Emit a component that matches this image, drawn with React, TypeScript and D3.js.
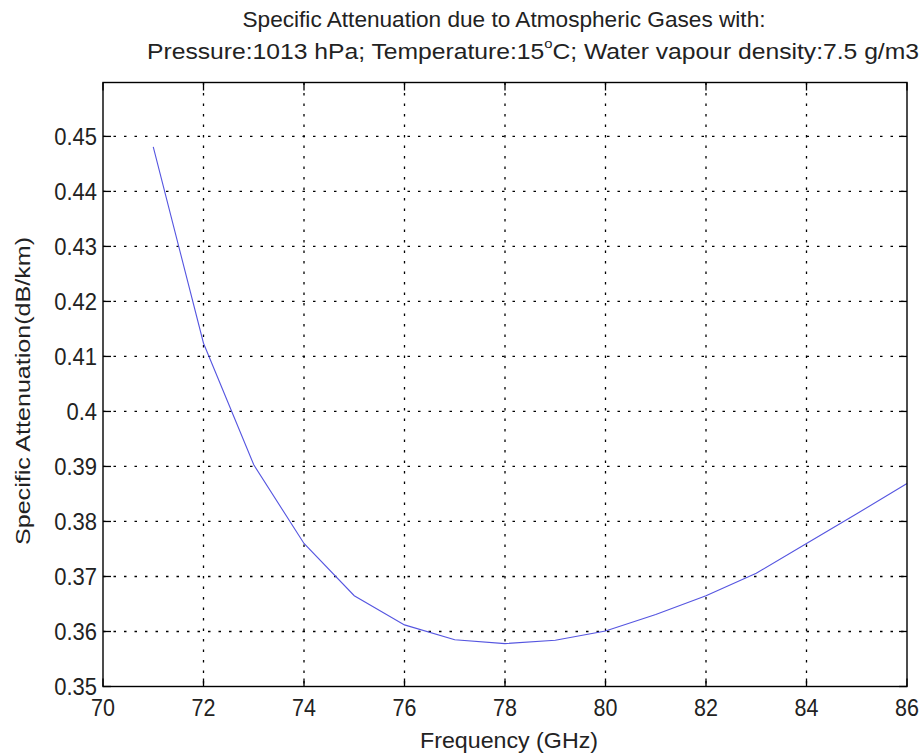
import React from "react";
import * as d3 from "d3";

const frequencies = [71, 72, 73, 74, 75, 76, 77, 78, 79, 80, 81, 82, 83, 84, 85, 86];
const attenuation = [0.4481, 0.4124, 0.3903, 0.376, 0.3665, 0.3612, 0.3585, 0.3578, 0.3584, 0.3601, 0.3631, 0.3665, 0.3706, 0.376, 0.3814, 0.3869];
const xTicks = [70, 72, 74, 76, 78, 80, 82, 84, 86];
const yTicks = [0.35, 0.36, 0.37, 0.38, 0.39, 0.4, 0.41, 0.42, 0.43, 0.44, 0.45];
const xDomain = [70, 86];
const yDomain = [0.35, 0.4598];

const W = 924;
const H = 754;
const L = 103, R = 907, T = 82.5, B = 686.5;
const FONT = "'Liberation Sans', Arial, Helvetica, sans-serif";

export default function App() {
  const x = d3.scaleLinear().domain(xDomain).range([L, R]);
  const y = d3.scaleLinear().domain(yDomain).range([B, T]);
  const line = d3
    .line<number>()
    .x((_, i) => x(frequencies[i]))
    .y((d) => y(d));
  const tl = 8;
  const fmtY = (v: number) => String(+v.toFixed(2));
  return (
    <svg
      width={W}
      height={H}
      style={{ position: "absolute", left: 0, top: 0, background: "#fff" }}
      fontFamily={FONT}
    >
      <rect x={0} y={0} width={W} height={H} fill="#fff" />
      {xTicks.slice(1, -1).map((t) => (
        <line key={"gx" + t} x1={x(t)} x2={x(t)} y1={T} y2={B} stroke="#000" strokeWidth={1.3} strokeDasharray="2.5,8" />
      ))}
      {yTicks.slice(1).map((t) => (
        <line key={"gy" + t} x1={L} x2={R} y1={y(t)} y2={y(t)} stroke="#000" strokeWidth={1.3} strokeDasharray="2.5,8" />
      ))}
      <path d={line(attenuation) || ""} fill="none" stroke="#5555e0" strokeWidth={1.1} />
      <rect x={L} y={T} width={R - L} height={B - T} fill="none" stroke="#000" strokeWidth={1.4} />
      {xTicks.map((t) => (
        <g key={"tx" + t}>
          <line x1={x(t)} x2={x(t)} y1={B} y2={B - tl} stroke="#000" strokeWidth={1.3} />
          <line x1={x(t)} x2={x(t)} y1={T} y2={T + tl} stroke="#000" strokeWidth={1.3} />
          <text transform={`translate(${x(t)},716) scale(1,1.08)`} textAnchor="middle" fontSize={21.5} fill="#222">
            {t}
          </text>
        </g>
      ))}
      {yTicks.map((t) => (
        <g key={"ty" + t}>
          <line x1={L} x2={L + tl} y1={y(t)} y2={y(t)} stroke="#000" strokeWidth={1.3} />
          <line x1={R} x2={R - tl} y1={y(t)} y2={y(t)} stroke="#000" strokeWidth={1.3} />
          <text transform={`translate(97,${y(t) + 8.5}) scale(1,1.1)`} textAnchor="end" fontSize={22} fill="#222">
            {fmtY(t)}
          </text>
        </g>
      ))}
      <text transform="translate(504,27) scale(1,1.08)" textAnchor="middle" fontSize={20} fill="#222" textLength={523} lengthAdjust="spacingAndGlyphs">
        Specific Attenuation due to Atmospheric Gases with:
      </text>
      <text transform="translate(147,59) scale(1,1.08)" fontSize={20} fill="#222" textLength={772} lengthAdjust="spacingAndGlyphs">
        Pressure:1013 hPa; Temperature:15<tspan fontSize={12} dy={-10}>o</tspan>
        <tspan dy={10}>C; Water vapour density:7.5 g/m3</tspan>
      </text>
      <text x={509} y={748} textAnchor="middle" fontSize={22.5} fill="#222" textLength={178} lengthAdjust="spacingAndGlyphs">
        Frequency (GHz)
      </text>
      <text
        transform={`translate(30, 391) rotate(-90)`}
        textAnchor="middle"
        fontSize={21}
        fill="#222"
        textLength={308}
        lengthAdjust="spacingAndGlyphs"
      >
        Specific Attenuation(dB/km)
      </text>
    </svg>
  );
}
